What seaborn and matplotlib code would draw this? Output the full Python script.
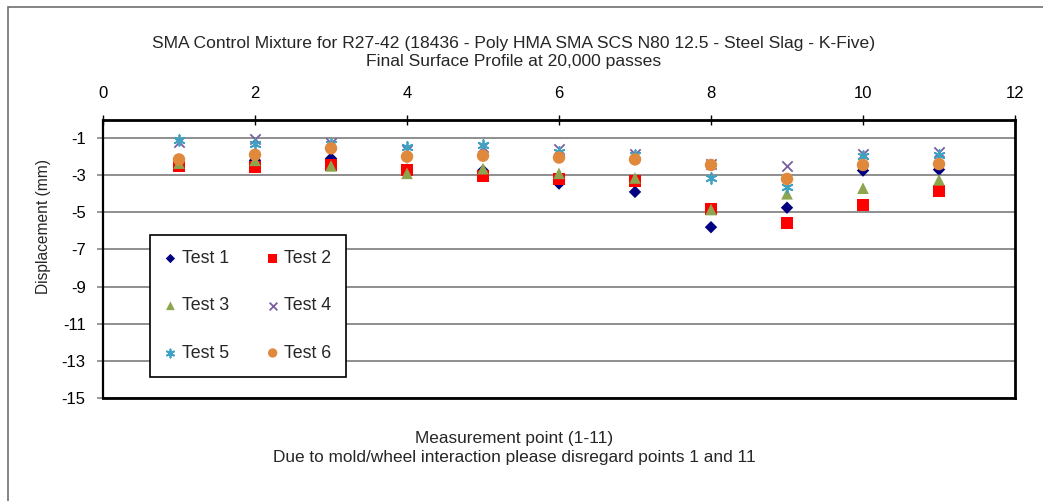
import numpy as np
import pandas as pd
import matplotlib
matplotlib.use("Agg")
import matplotlib.pyplot as plt
from matplotlib.patches import Rectangle
import seaborn as sns

# ---------------- data ----------------
points = [1, 2, 3, 4, 5, 6, 7, 8, 9, 10, 11]
test1 = [-2.3, -2.2, -2.1, -2.7, -2.75, -3.45, -3.9, -5.8, -4.75, -2.75, -2.7]
test2 = [-2.5, -2.55, -2.45, -2.7, -3.05, -3.2, -3.3, -4.8, -5.55, -4.6, -3.85]
test3 = [-2.35, -2.2, -2.5, -2.9, -2.65, -2.9, -3.15, -4.85, -4.0, -3.7, -3.25]
test4 = [-1.2, -1.05, -1.25, -1.65, -1.5, -1.6, -1.85, -2.4, -2.5, -1.85, -1.75]
test5 = [-1.1, -1.3, -1.3, -1.5, -1.4, -1.75, -1.9, -3.15, -3.65, -1.95, -1.9]
test6 = [-2.15, -1.9, -1.55, -2.0, -1.95, -2.05, -2.15, -2.45, -3.2, -2.45, -2.4]
series_names = ["Test 1", "Test 2", "Test 3", "Test 4", "Test 5", "Test 6"]
x_ticks = [0, 2, 4, 6, 8, 10, 12]
y_ticks = [-15, -13, -11, -9, -7, -5, -3, -1]

title = ("SMA Control Mixture for R27-42 (18436 - Poly HMA SMA SCS N80 12.5 - Steel Slag - K-Five)\n"
         "Final Surface Profile at 20,000 passes")
xlabel = ("Measurement point (1-11)\n"
          "Due to mold/wheel interaction please disregard points 1 and 11")
ylabel = "Displacement (mm)"

series_values = [test1, test2, test3, test4, test5, test6]
df = pd.concat(
    [pd.DataFrame({"point": points, "disp": vals, "series": name})
     for name, vals in zip(series_names, series_values)],
    ignore_index=True,
)

colors = {"Test 1": "#000080", "Test 2": "#FF0000", "Test 3": "#8CA54E",
          "Test 4": "#7A60A0", "Test 5": "#40A2C2", "Test 6": "#E0883C"}
markers = {"Test 1": "D", "Test 2": "s", "Test 3": "^",
           "Test 4": "x", "Test 5": (6, 2, 0), "Test 6": "o"}
sizes = {"Test 1": 40, "Test 2": 75, "Test 3": 70,
         "Test 4": 55, "Test 5": 60, "Test 6": 80}

# ---------------- figure ----------------
sns.set_style("white")
plt.rcParams["font.family"] = ["Liberation Sans", "DejaVu Sans"]

W, H = 1043, 501
fig = plt.figure(figsize=(W / 100, H / 100), dpi=100)
fig.patch.set_facecolor("white")

left, right, top, bottom = 103, 1015, 119.5, 398
ax = fig.add_axes([left / W, 1 - bottom / H, (right - left) / W, (bottom - top) / H])

for name in series_names:
    sub = df[df["series"] == name]
    lined = name in ("Test 4", "Test 5")
    sns.scatterplot(data=sub, x="point", y="disp", ax=ax,
                    color=colors[name], marker=markers[name], s=sizes[name],
                    linewidth=(1.3 if lined else 0),
                    edgecolor=(colors[name] if lined else "none"),
                    label=name, zorder=3)

ax.set_xlim(0, 12)
ax.set_ylim(-15, 0)
ax.set_xticks(x_ticks)
ax.set_yticks(y_ticks)
ax.set_yticklabels([str(v) for v in y_ticks])
ax.xaxis.tick_top()
ax.set_xlabel("")
ax.set_ylabel("")
ax.tick_params(axis="x", top=True, bottom=False, direction="inout", length=7,
               width=1, colors="black", labelsize=12, pad=10)
ax.tick_params(axis="y", left=True, direction="out", length=4.5, width=1.2,
               color="#868686", labelcolor="black", labelsize=12, pad=8)
for yv in y_ticks:
    ax.axhline(yv, color="#868686", lw=1.3, zorder=1)
for side in ["top", "right", "bottom"]:
    ax.spines[side].set_color("black")
    ax.spines[side].set_linewidth(2)
ax.spines["left"].set_color("black")
ax.spines["left"].set_linewidth(1.6)

handles, labels = ax.get_legend_handles_labels()
order = [0, 2, 4, 1, 3, 5]  # row-wise filling: T1 T2 / T3 T4 / T5 T6
handles = [handles[i] for i in order]
labels = [labels[i] for i in order]
leg = ax.legend(handles, labels, ncol=2, loc="upper left",
                bbox_to_anchor=(0.0515, 0.585), frameon=True, fancybox=False,
                edgecolor="black", framealpha=1, fontsize=12.8,
                markerscale=0.75, labelspacing=1.7, handlelength=0.6,
                handletextpad=0.35, columnspacing=2.15, borderpad=0.85,
                borderaxespad=0)
leg.get_frame().set_linewidth(1.2)
leg.set_zorder(5)

fig.text(514 / W, 1 - 52.5 / H, title, ha="center", va="center",
         fontsize=12.6, linespacing=1.3)
fig.text(514 / W, 1 - 448 / H, xlabel, ha="center", va="center",
         fontsize=12.4, linespacing=1.28)
fig.text(44 / W, 1 - 227 / H, ylabel, ha="center", va="center",
         rotation=90, fontsize=11.2)

fig.add_artist(Rectangle((8 / W, -0.1), 1.2, 1 - 7 / H + 0.1,
                         transform=fig.transFigure, fill=False,
                         edgecolor="#6f6f6f", lw=1.2, zorder=0))

fig.savefig("out.png", dpi=100, facecolor="white")
